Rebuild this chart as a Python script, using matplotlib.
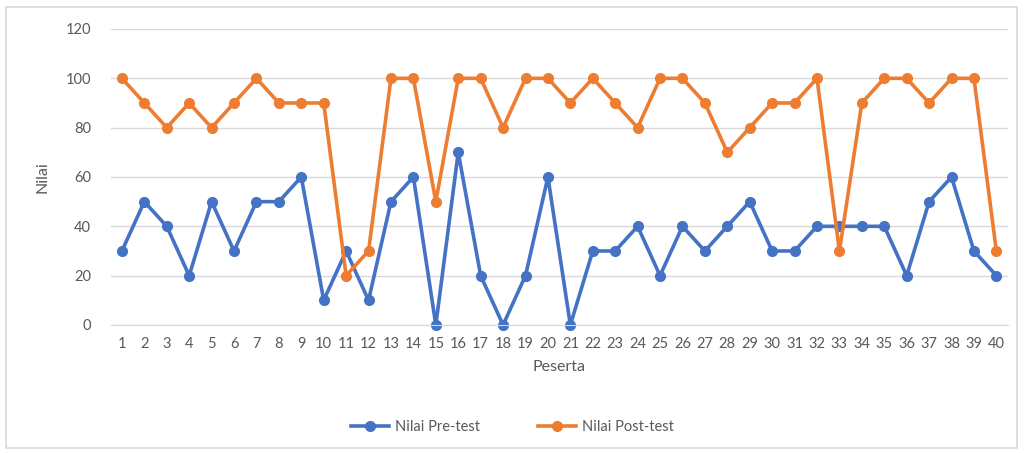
import matplotlib.pyplot as plt
from matplotlib.patches import Rectangle

peserta = list(range(1, 41))

nilai_pre = [30, 50, 40, 20, 50, 30, 50, 50, 60, 10,
             30, 10, 50, 60, 0, 70, 20, 0, 20, 60,
             0, 30, 30, 40, 20, 40, 30, 40, 50, 30,
             30, 40, 40, 40, 40, 20, 50, 60, 30, 20]

nilai_post = [100, 90, 80, 90, 80, 90, 100, 90, 90, 90,
              20, 30, 100, 100, 50, 100, 100, 80, 100, 100,
              90, 100, 90, 80, 100, 100, 90, 70, 80, 90,
              90, 100, 30, 90, 100, 100, 90, 100, 100, 30]

BLUE = "#4472C4"
ORANGE = "#ED7D31"
GREY = "#595959"

plt.rcParams["font.family"] = ["Lato", "DejaVu Sans"]

fig = plt.figure(figsize=(10.25, 4.53), dpi=100)

# light chart border
fig.patches.append(Rectangle(
    (6 / 1025, 5 / 453), 1011 / 1025, 441 / 453,
    transform=fig.transFigure, fill=False,
    edgecolor="#D9D9D9", linewidth=1.2
))

ax = fig.add_axes([0.108, 0.2826, 0.875, 0.6534])

ax.plot(peserta, nilai_pre, color=BLUE, linewidth=2.6,
        marker="o", markersize=7, label="Nilai Pre-test", clip_on=False)
ax.plot(peserta, nilai_post, color=ORANGE, linewidth=2.6,
        marker="o", markersize=7, label="Nilai Post-test", clip_on=False)

ax.set_xlim(0.5, 40.5)
ax.set_ylim(0, 120)
ax.set_yticks(range(0, 121, 20))
ax.set_xticks(peserta)
ax.grid(axis="y", color="#D9D9D9", linewidth=1)
ax.set_axisbelow(True)

for side in ["top", "right", "left"]:
    ax.spines[side].set_visible(False)
ax.spines["bottom"].set_color("#D9D9D9")

ax.tick_params(axis="both", length=0, colors=GREY, labelsize=10.5)
ax.tick_params(axis="x", pad=9)
ax.tick_params(axis="y", pad=14)

ax.set_xlabel("Peserta", color=GREY, fontsize=11.5, labelpad=6)
ax.set_ylabel("Nilai", color=GREY, fontsize=11.5, labelpad=12)

ax.legend(loc="center", bbox_to_anchor=(0.5, 1 - 427 / 453),
          bbox_transform=fig.transFigure, ncol=2, frameon=False,
          fontsize=10.5, labelcolor=GREY, handlelength=2.6,
          handletextpad=0.4, columnspacing=4)

fig.savefig("out.png", dpi=100)
